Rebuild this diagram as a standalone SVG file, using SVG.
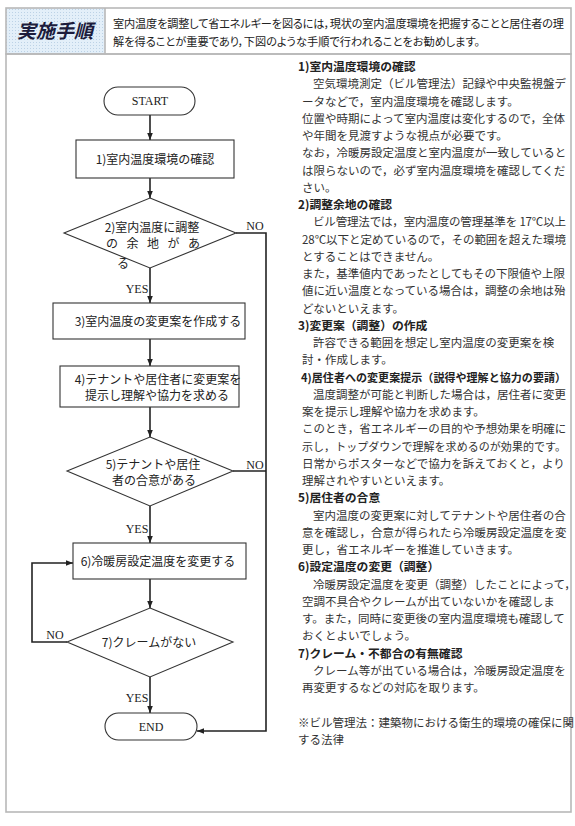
<svg xmlns="http://www.w3.org/2000/svg" width="575" height="826" viewBox="0 0 575 826">
<style>
.frame{fill:none;stroke:#b8b8b8;stroke-width:1.6}
.shape{fill:#fff;stroke:#333;stroke-width:1.1}
.conn{fill:none;stroke:#222;stroke-width:1.6}
.jp{font-family:"Noto Sans CJK JP","Noto Sans",sans-serif;fill:#222}
.fc{font-size:12px}
.lat{font-family:"Liberation Serif",serif;font-size:12px;fill:#222}
.hd{font-size:11.8px;font-weight:bold;fill:#222}
.bd{font-size:11.5px;fill:#333}
.hdr{font-size:11.2px;fill:#222;font-feature-settings:"palt"}
</style>
<defs>
<pattern id="dots" width="3" height="3" patternUnits="userSpaceOnUse"><rect width="3" height="3" fill="#e3eff9"/><rect width="1" height="1" fill="#bcd2e6"/></pattern>
<marker id="ah" viewBox="0 0 10 10" refX="10" refY="5" markerWidth="7" markerHeight="7" markerUnits="userSpaceOnUse" orient="auto"><path d="M0,1 L10,5 L0,9 z" fill="#222"/></marker>
</defs>
<rect width="575" height="826" fill="#fff"/>
<g id="header">
<rect x="6" y="8" width="99" height="46" fill="url(#dots)"/>
<rect class="frame" x="6" y="8" width="565" height="46"/>
<line class="frame" x1="105" y1="8" x2="105" y2="54"/>
<text class="jp" x="55" y="38" text-anchor="middle" style="font-size:19px;font-weight:bold;font-style:italic;fill:#1c1c3c">実施手順</text>
<text class="jp hdr" x="113" y="28" textLength="451" lengthAdjust="spacing">室内温度を調整して省エネルギーを図るには，現状の室内温度環境を把握することと居住者の理</text>
<text class="jp hdr" x="113" y="46">解を得ることが重要であり，下図のような手順で行われることをお勧めします。</text>
</g>
<rect class="frame" x="6" y="54" width="565" height="758"/>
<g id="connectors">
<path class="conn" d="M150,115 V140" marker-end="url(#ah)"/>
<path class="conn" d="M150,178 V198" marker-end="url(#ah)"/>
<path class="conn" d="M150,268 V303" marker-end="url(#ah)"/>
<path class="conn" d="M150,339 V366" marker-end="url(#ah)"/>
<path class="conn" d="M150,407 V437" marker-end="url(#ah)"/>
<path class="conn" d="M150,506 V543" marker-end="url(#ah)"/>
<path class="conn" d="M150,579 V608" marker-end="url(#ah)"/>
<path class="conn" d="M150,677 V713" marker-end="url(#ah)"/>
<path class="conn" d="M236,233 H266 V731 H197" marker-end="url(#ah)"/>
<path class="conn" d="M233,471 H266"/>
<path class="conn" d="M67,642 H32 V563 H73" marker-end="url(#ah)"/>
<text class="lat" x="255" y="230" text-anchor="middle">NO</text>
<text class="lat" x="255" y="469" text-anchor="middle">NO</text>
<text class="lat" x="55" y="639" text-anchor="middle">NO</text>
<text class="lat" x="137" y="293" text-anchor="middle">YES</text>
<text class="lat" x="137" y="533" text-anchor="middle">YES</text>
<text class="lat" x="137" y="702" text-anchor="middle">YES</text>
</g>
<g id="start">
<rect class="shape" x="104" y="87" width="91" height="28" rx="14"/>
<text class="lat" x="150" y="105" text-anchor="middle">START</text>
</g>
<g id="step1">
<rect class="shape" x="76" y="140" width="158" height="38"/>
<text class="jp fc" x="155" y="164" text-anchor="middle">1)室内温度環境の確認</text>
</g>
<g id="step2">
<polygon class="shape" points="150,198 236,233 150,268 64,233"/>
<text class="jp fc" x="152" y="232" text-anchor="middle">2)室内温度に調整</text>
<text class="jp fc" x="106" y="248" textLength="94" lengthAdjust="spacing">の余地があ</text>
<text class="jp fc" x="117" y="268">る</text>
</g>
<g id="step3">
<rect class="shape" x="53" y="303" width="192" height="36"/>
<text class="jp fc" x="158" y="326" text-anchor="middle">3)室内温度の変更案を作成する</text>
</g>
<g id="step4">
<rect class="shape" x="60" y="366" width="179" height="41"/>
<text class="jp fc" x="158" y="384" text-anchor="middle">4)テナントや居住者に変更案を</text>
<text class="jp fc" x="157" y="400" text-anchor="middle">提示し理解や協力を求める</text>
</g>
<g id="step5">
<polygon class="shape" points="150,437 233,471 150,506 67,471"/>
<text class="jp fc" x="153" y="469" text-anchor="middle">5)テナントや居住</text>
<text class="jp fc" x="154" y="485" text-anchor="middle">者の合意がある</text>
</g>
<g id="step6">
<rect class="shape" x="73" y="543" width="173" height="36"/>
<text class="jp fc" x="158" y="566" text-anchor="middle">6)冷暖房設定温度を変更する</text>
</g>
<g id="step7">
<polygon class="shape" points="150,608 233,642 150,677 67,642"/>
<text class="jp fc" x="149" y="647" text-anchor="middle">7)クレームがない</text>
</g>
<g id="end">
<rect class="shape" x="105" y="713" width="92" height="27" rx="13.5"/>
<text class="lat" x="151" y="731" text-anchor="middle">END</text>
</g>
<g id="explanation">
<text class="jp hd" x="298" y="71">1)室内温度環境の確認</text>
<text class="jp bd" x="313" y="88.25">空気環境測定（ビル管理法）記録や中央監視盤デ</text>
<text class="jp bd" x="302" y="105.5">ータなどで，室内温度環境を確認します。</text>
<text class="jp bd" x="302" y="122.75">位置や時期によって室内温度は変化するので，全体</text>
<text class="jp bd" x="302" y="140">や年間を見渡すような視点が必要です。</text>
<text class="jp bd" x="302" y="157.25">なお，冷暖房設定温度と室内温度が一致していると</text>
<text class="jp bd" x="302" y="174.5">は限らないので，必ず室内温度環境を確認してくだ</text>
<text class="jp bd" x="302" y="191.75">さい。</text>
<text class="jp hd" x="298" y="209">2)調整余地の確認</text>
<text class="jp bd" x="313" y="226.25" textLength="253" lengthAdjust="spacing">ビル管理法では，室内温度の管理基準を 17℃以上</text>
<text class="jp bd" x="302" y="243.5" textLength="264" lengthAdjust="spacing">28℃以下と定めているので，その範囲を超えた環境</text>
<text class="jp bd" x="302" y="260.75">とすることはできません。</text>
<text class="jp bd" x="302" y="278">また，基準値内であったとしてもその下限値や上限</text>
<text class="jp bd" x="302" y="295.25">値に近い温度となっている場合は，調整の余地は殆</text>
<text class="jp bd" x="302" y="312.5">どないといえます。</text>
<text class="jp hd" x="298" y="329.75">3)変更案（調整）の作成</text>
<text class="jp bd" x="313" y="347">許容できる範囲を想定し室内温度の変更案を検</text>
<text class="jp bd" x="302" y="364.25">討・作成します。</text>
<text class="jp hd" x="301" y="381.5" style="font-size:11px" textLength="265" lengthAdjust="spacing">4)居住者への変更案提示（説得や理解と協力の要請）</text>
<text class="jp bd" x="313" y="398.75">温度調整が可能と判断した場合は，居住者に変更</text>
<text class="jp bd" x="302" y="416">案を提示し理解や協力を求めます。</text>
<text class="jp bd" x="302" y="433.25">このとき，省エネルギーの目的や予想効果を明確に</text>
<text class="jp bd" x="302" y="450.5" style="font-size:11px" textLength="264" lengthAdjust="spacing">示し，トップダウンで理解を求めるのが効果的です。</text>
<text class="jp bd" x="302" y="467.75">日常からポスターなどで協力を訴えておくと，より</text>
<text class="jp bd" x="302" y="485">理解されやすいといえます。</text>
<text class="jp hd" x="298" y="502.25">5)居住者の合意</text>
<text class="jp bd" x="313" y="519.5">室内温度の変更案に対してテナントや居住者の合</text>
<text class="jp bd" x="302" y="536.75">意を確認し，合意が得られたら冷暖房設定温度を変</text>
<text class="jp bd" x="302" y="554">更し，省エネルギーを推進していきます。</text>
<text class="jp hd" x="298" y="571.25">6)設定温度の変更（調整）</text>
<text class="jp bd" x="313" y="588.5">冷暖房設定温度を変更（調整）したことによって，</text>
<text class="jp bd" x="302" y="605.75">空調不具合やクレームが出ていないかを確認しま</text>
<text class="jp bd" x="302" y="623">す。また，同時に変更後の室内温度環境も確認して</text>
<text class="jp bd" x="302" y="640.25">おくとよいでしょう。</text>
<text class="jp hd" x="298" y="657.5">7)クレーム・不都合の有無確認</text>
<text class="jp bd" x="313" y="674.75">クレーム等が出ている場合は，冷暖房設定温度を</text>
<text class="jp bd" x="302" y="692">再変更するなどの対応を取ります。</text>
<text class="jp bd" x="298" y="726.5">※ビル管理法：建築物における衛生的環境の確保に関</text>
<text class="jp bd" x="298" y="743.75">する法律</text>
</g>
</svg>
